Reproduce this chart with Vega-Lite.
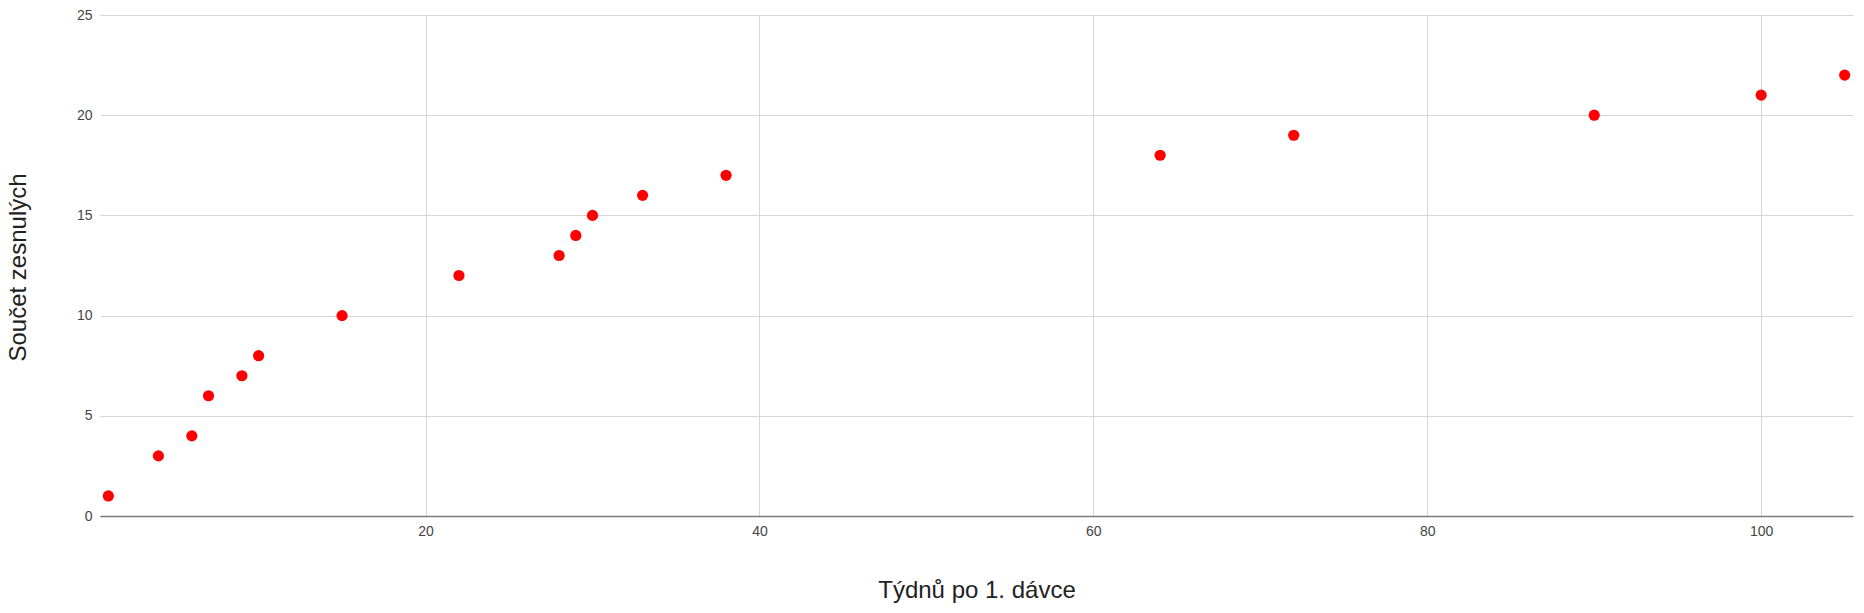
{
  "$schema": "https://vega.github.io/schema/vega-lite/v6.json",
  "width": 1753,
  "height": 501,
  "autosize": {"type": "none"},
  "padding": {"left": 100, "top": 15, "right": 11, "bottom": 97},
  "background": "#ffffff",
  "config": {
    "view": {"stroke": null},
    "font": "Liberation Sans",
    "axis": {
      "labelFont": "Liberation Sans",
      "titleFont": "Liberation Sans",
      "labelFontSize": 14,
      "labelColor": "#444444",
      "titleFontSize": 24,
      "titleFontWeight": "normal",
      "titleColor": "#222222",
      "gridColor": "#d6d6d6",
      "gridWidth": 1,
      "ticks": false
    }
  },
  "data": {
    "values": [
      {"tydny": 1, "zesnuli": 1},
      {"tydny": 4, "zesnuli": 3},
      {"tydny": 6, "zesnuli": 4},
      {"tydny": 7, "zesnuli": 6},
      {"tydny": 9, "zesnuli": 7},
      {"tydny": 10, "zesnuli": 8},
      {"tydny": 15, "zesnuli": 10},
      {"tydny": 22, "zesnuli": 12},
      {"tydny": 28, "zesnuli": 13},
      {"tydny": 29, "zesnuli": 14},
      {"tydny": 30, "zesnuli": 15},
      {"tydny": 33, "zesnuli": 16},
      {"tydny": 38, "zesnuli": 17},
      {"tydny": 64, "zesnuli": 18},
      {"tydny": 72, "zesnuli": 19},
      {"tydny": 90, "zesnuli": 20},
      {"tydny": 100, "zesnuli": 21},
      {"tydny": 105, "zesnuli": 22}
    ]
  },
  "mark": {"type": "circle", "color": "#ff0000", "opacity": 1, "size": 125},
  "encoding": {
    "x": {
      "field": "tydny",
      "type": "quantitative",
      "scale": {"domain": [0.5, 105.5], "nice": false, "zero": false},
      "axis": {
        "title": "Týdnů po 1. dávce",
        "values": [20, 40, 60, 80, 100],
        "grid": true,
        "domain": true,
        "domainColor": "#7a7a7a",
        "domainWidth": 1.5,
        "labelPadding": 8,
        "titleY": 81,
        "titleBaseline": "alphabetic"
      }
    },
    "y": {
      "field": "zesnuli",
      "type": "quantitative",
      "scale": {"domain": [0, 25], "nice": false},
      "axis": {
        "title": "Součet zesnulých",
        "values": [0, 5, 10, 15, 20, 25],
        "grid": true,
        "domain": false,
        "labelPadding": 8,
        "titleX": -75,
        "titleY": 252,
        "titleAngle": -90,
        "titleAlign": "center",
        "titleBaseline": "alphabetic"
      }
    }
  }
}
